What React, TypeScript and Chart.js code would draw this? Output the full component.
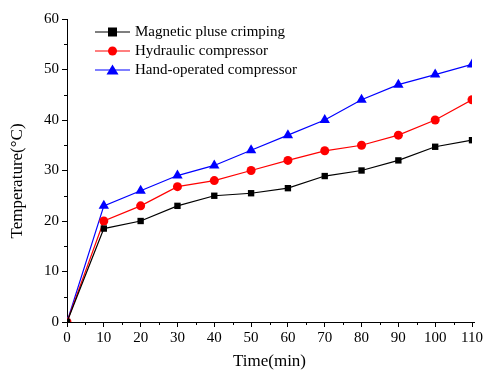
import React, { useEffect, useRef } from "react";
import { Chart, registerables } from "chart.js";

Chart.register(...registerables);

const times = [0, 10, 20, 30, 40, 50, 60, 70, 80, 90, 100, 110];
const magnetic = [0, 18.5, 20, 23, 25, 25.5, 26.5, 28.9, 30, 32, 34.7, 36];
const hydraulic = [0, 20, 23, 26.8, 28, 30, 32, 33.9, 35, 37, 40, 44];
const handOperated = [0, 23, 26, 29, 31, 34, 37, 40, 44, 47, 49, 51];
const seriesNames = ["Magnetic pluse crimping", "Hydraulic compressor", "Hand-operated compressor"];
const xTitle = "Time(min)";
const yTitle = "Temperature(°C)";

const FONT = "'Liberation Serif', 'Times New Roman', serif";

const minorTicks = {
  id: "minorTicks",
  afterDraw(chart: any) {
    const ctx = chart.ctx;
    const x = chart.scales.x;
    const y = chart.scales.y;
    ctx.save();
    ctx.strokeStyle = "#000";
    ctx.lineWidth = 1;
    ctx.beginPath();
    for (let v = 5; v < 110; v += 10) {
      const px = Math.round(x.getPixelForValue(v)) + 0.5;
      ctx.moveTo(px, x.top);
      ctx.lineTo(px, x.top + 3);
    }
    for (let v = 5; v < 60; v += 10) {
      const py = Math.round(y.getPixelForValue(v)) + 0.5;
      ctx.moveTo(y.right, py);
      ctx.lineTo(y.right - 3, py);
    }
    ctx.moveTo(x.right, x.top + 0.5);
    ctx.lineTo(x.right + 3, x.top + 0.5);
    ctx.stroke();
    // axis titles
    ctx.fillStyle = "#000";
    ctx.font = `17px ${FONT}`;
    ctx.textAlign = "center";
    ctx.textBaseline = "middle";
    ctx.fillText(xTitle, (x.left + x.right) / 2, 362);
    ctx.translate(18, 181);
    ctx.rotate(-Math.PI / 2);
    ctx.fillText(yTitle, 0, 0);
    ctx.restore();
  },
};

export default function App() {
  const ref = useRef<HTMLCanvasElement>(null);
  useEffect(() => {
    if (!ref.current) return;
    const mk = (label: string, data: number[], color: string, style: any, radius: number) => ({
      label,
      data: times.map((t, i) => ({ x: t, y: data[i] })),
      borderColor: color,
      backgroundColor: color,
      borderWidth: 1.2,
      pointStyle: style,
      pointRadius: radius,
      pointBorderWidth: 0,
      tension: 0,
    });
    const chart = new Chart(ref.current, {
      type: "line",
      data: {
        datasets: [
          mk(seriesNames[0], magnetic, "#000000", "rect", 4.5),
          mk(seriesNames[1], hydraulic, "#ff0000", "circle", 4.5),
          mk(seriesNames[2], handOperated, "#0000ff", "triangle", 6),
        ],
      },
      options: {
        animation: false,
        responsive: false,
        maintainAspectRatio: false,
        layout: { padding: { top: 19, right: 11, left: 0, bottom: 0 } },
        plugins: {
          legend: { display: false },
          tooltip: { enabled: false },
        },
        scales: {
          x: {
            type: "linear",
            min: 0,
            max: 110,
            border: { display: true, color: "#000", width: 1 },
            grid: { drawOnChartArea: false, drawTicks: true, tickLength: 5, color: "#000" },
            ticks: { stepSize: 10, color: "#000", font: { family: FONT, size: 15 }, padding: 2, maxRotation: 0 },
            afterFit: (s: any) => { s.height = 48; s.paddingRight = 0; s.paddingLeft = 0; },
          },
          y: {
            min: 0,
            max: 60,
            border: { display: true, color: "#000", width: 1 },
            grid: { drawOnChartArea: false, drawTicks: true, tickLength: 5, color: "#000" },
            ticks: { stepSize: 10, color: "#000", font: { family: FONT, size: 15 }, padding: 3 },
            afterFit: (s: any) => { s.width = 67; s.paddingTop = 0; s.paddingBottom = 0; },
          },
        },
      },
      plugins: [
        minorTicks,
        {
          id: "customLegend",
          afterDraw(c: any) {
            const ctx = c.ctx;
            const rows = [32, 51, 70];
            const colors = ["#000000", "#ff0000", "#0000ff"];
            const styles = ["rect", "circle", "triangle"];
            ctx.save();
            ctx.font = `15px ${FONT}`;
            ctx.textBaseline = "middle";
            for (let i = 0; i < 3; i++) {
              const yy = rows[i];
              ctx.strokeStyle = colors[i];
              ctx.lineWidth = 1.2;
              ctx.beginPath();
              ctx.moveTo(95, yy);
              ctx.lineTo(130, yy);
              ctx.stroke();
              ctx.fillStyle = colors[i];
              ctx.beginPath();
              if (styles[i] === "rect") ctx.rect(108, yy - 4.5, 9, 9);
              else if (styles[i] === "circle") ctx.arc(112.5, yy, 4.5, 0, Math.PI * 2);
              else { ctx.moveTo(112.5, yy - 5.5); ctx.lineTo(118.5, yy + 4.5); ctx.lineTo(106.5, yy + 4.5); ctx.closePath(); }
              ctx.fill();
              ctx.fillStyle = "#000";
              ctx.fillText(c.data.datasets[i].label, 135, yy);
            }
            ctx.restore();
          },
        },
      ],
    } as any);
    return () => chart.destroy();
  }, []);
  return (
    <div style={{ position: "fixed", left: 0, top: 0, width: 483, height: 370, background: "#fff" }}>
      <canvas ref={ref} width={483} height={370} style={{ width: 483, height: 370 }} />
    </div>
  );
}
